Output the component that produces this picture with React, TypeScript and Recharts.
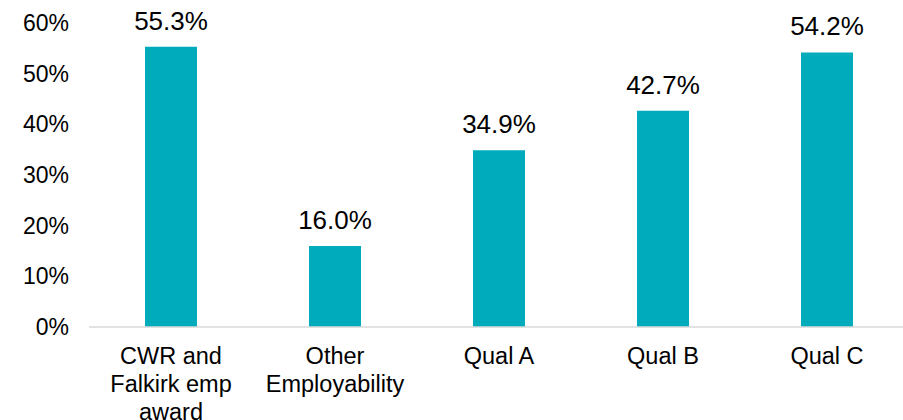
import { BarChart, Bar, XAxis, YAxis, LabelList } from "recharts";

const categories = ["CWR and\nFalkirk emp\naward", "Other\nEmployability", "Qual A", "Qual B", "Qual C"];
const values = [55.3, 16.0, 34.9, 42.7, 54.2];
const yTicks = [0, 10, 20, 30, 40, 50, 60];

const data = categories.map((name, i) => ({ name, value: values[i] }));

const FONT = '"Liberation Sans", Arial, sans-serif';

function CategoryTick({ x, y, payload }: any) {
  const lines = String(payload.value).split("\n");
  return (
    <text x={x} y={y} textAnchor="middle" fontSize={23.5} fontFamily={FONT} fill="#000">
      {lines.map((ln, i) => (
        <tspan key={i} x={x} dy={i === 0 ? 29 : 28}>
          {ln}
        </tspan>
      ))}
    </text>
  );
}

export default function App() {
  return (
    <div style={{ position: "absolute", left: 0, top: 0, width: 903, height: 420, overflow: "hidden", background: "#fff" }}>
      <BarChart width={920} height={420} data={data} margin={{ top: 23, right: 11, bottom: 0, left: 0 }}>
        <XAxis
          dataKey="name"
          interval={0}
          tickLine={false}
          axisLine={{ stroke: "#d9d9d9", strokeWidth: 1.5 }}
          height={93}
          tick={<CategoryTick />}
        />
        <YAxis
          domain={[0, 60]}
          ticks={yTicks}
          width={89}
          axisLine={false}
          tickLine={false}
          tickMargin={14}
          tickFormatter={(v) => `${v}%`}
          tick={{ fontSize: 23, fontFamily: FONT, fill: "#000" }}
        />
        <Bar dataKey="value" fill="#00abbc" barSize={52} isAnimationActive={false}>
          <LabelList
            dataKey="value"
            position="top"
            offset={17}
            formatter={(v: any) => `${Number(v).toFixed(1)}%`}
            style={{ fontSize: 26, fontFamily: FONT, fill: "#000" }}
          />
        </Bar>
      </BarChart>
    </div>
  );
}
